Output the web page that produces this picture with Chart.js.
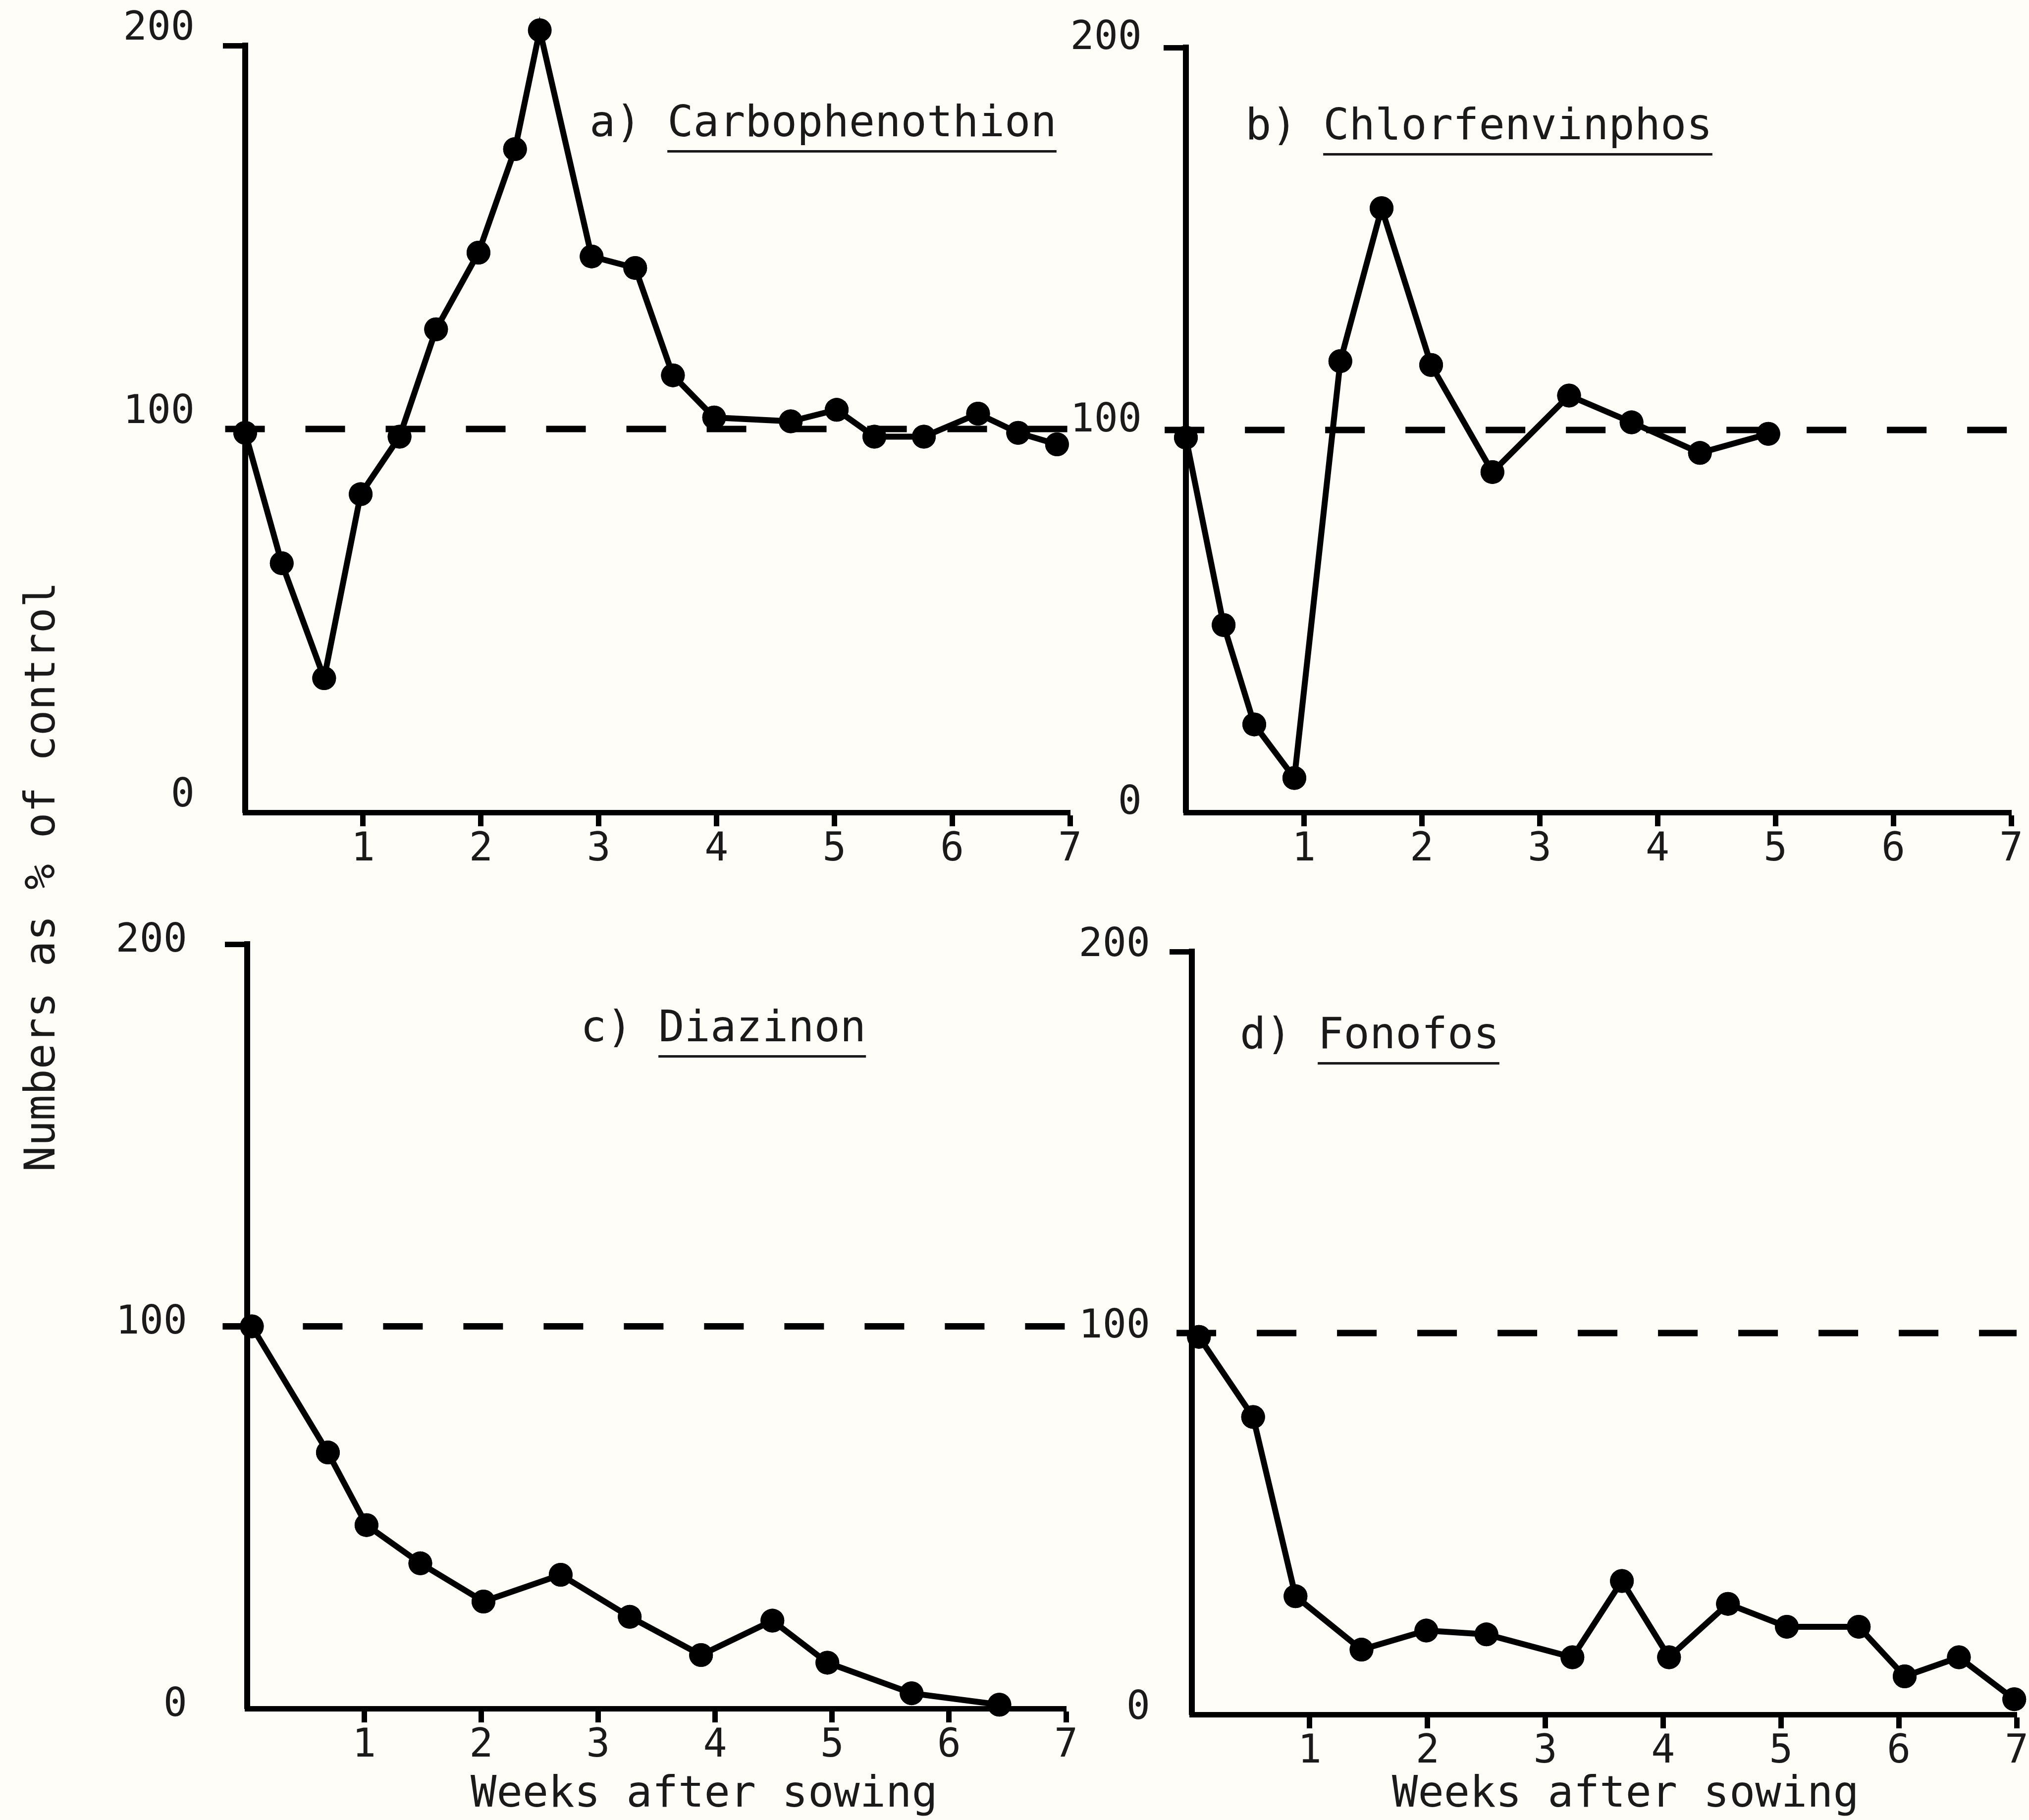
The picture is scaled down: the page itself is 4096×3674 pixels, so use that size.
<!DOCTYPE html>
<html lang="en">
<head>
<meta charset="UTF-8">
<title>Numbers as % of control</title>
<script src="https://cdn.jsdelivr.net/npm/chart.js"></script>
<style>
    body {
        margin: 0;
        width: 4096px;
        height: 3674px;
        overflow: hidden;
        position: relative;
        background: #fffdf7;
        font-family: "DejaVu Sans Mono", monospace;
        color: #1a1a1a;
    }
    canvas { position: absolute; }
    .label {
        position: absolute;
        font-size: 87px;
        line-height: 1;
        white-space: pre;
    }
    .label span {
        text-decoration: underline;
        text-decoration-thickness: 5px;
        text-underline-offset: 28px;
    }
    .xtitle {
        position: absolute;
        font-size: 87px;
        line-height: 1;
        white-space: pre;
    }
    #ytitle {
        position: absolute;
        left: 80px;
        top: 1770px;
        font-size: 86px;
        line-height: 1;
        white-space: pre;
        transform: translate(-50%, -50%) rotate(-90deg);
    }
</style>
</head>
<body>
    <canvas id="chartA"></canvas>
    <canvas id="chartB"></canvas>
    <canvas id="chartC"></canvas>
    <canvas id="chartD"></canvas>

    <div class="label" style="left:1190px; top:202px">a) <span>Carbophenothion</span></div>
    <div class="label" style="left:2514px; top:208px">b) <span>Chlorfenvinphos</span></div>
    <div class="label" style="left:1172px; top:2029px">c) <span>Diazinon</span></div>
    <div class="label" style="left:2503px; top:2043px">d) <span>Fonofos</span></div>

    <div class="xtitle" style="left:950px; top:3574px">Weeks after sowing</div>
    <div class="xtitle" style="left:2810px; top:3574px">Weeks after sowing</div>
    <div id="ytitle">Numbers as % of control</div>

<script>
// axis ticks
const weekTicks = [1, 2, 3, 4, 5, 6, 7];
const pctTicks = [0, 100, 200];
const controlLevel = 100;

// a) Carbophenothion
const carboWeeks = [0, 0.31, 0.67, 0.98, 1.31, 1.62, 1.98, 2.29, 2.50, 2.94, 3.31, 3.63, 3.98, 4.63, 5.02, 5.34, 5.76, 6.22, 6.56, 6.89];
const carboPct   = [99, 65, 35, 83, 98, 126, 146, 173, 204, 145, 142, 114, 103, 102, 105, 98, 98, 104, 99, 96];

// b) Chlorfenvinphos
const chlorWeeks = [0, 0.32, 0.58, 0.92, 1.31, 1.66, 2.08, 2.60, 3.25, 3.78, 4.36, 4.94];
const chlorPct   = [98, 49, 23, 9, 118, 158, 117, 89, 109, 102, 94, 99];

// c) Diazinon
const diazWeeks = [0.04, 0.69, 1.02, 1.48, 2.02, 2.68, 3.27, 3.88, 4.49, 4.96, 5.68, 6.43];
const diazPct   = [100, 67, 48, 38, 28, 35, 24, 14, 23, 12, 4, 1];

// d) Fonofos
const fonoWeeks = [0.06, 0.52, 0.88, 1.44, 1.99, 2.50, 3.23, 3.65, 4.05, 4.55, 5.05, 5.66, 6.05, 6.51, 6.98];
const fonoPct   = [99, 78, 31, 17, 22, 21, 15, 35, 15, 29, 23, 23, 10, 15, 4];

// how far the dashed control line runs (weeks)
const controlSpanA = [-0.17, 7];
const controlSpanB = [-0.18, 7];
const controlSpanC = [-0.21, 7.08];
const controlSpanD = [-0.13, 7];

const FONT = '"DejaVu Sans Mono", monospace';
// big top padding so the y labels never push the chart area down
const YW = 300, XH = 200, PAD_T = 200, PAD_R = 25;

// points above 200 (the peak in a) are skipped by Chart.js, draw them anyway
const allPoints = {
    id: 'allPoints',
    afterDatasetsDraw(chart) {
        const wide = { left: -1e4, top: -1e4, right: 1e4, bottom: 1e4 };
        chart.getDatasetMeta(0).data.forEach(p => p.draw(chart.ctx, wide));
    }
};

function makePanel(id, area, weeks, pct, span, yLab) {
    const cv = document.getElementById(id);
    const w = area.right - area.left + YW + PAD_R;
    const h = area.bottom - area.top + PAD_T + XH;
    cv.width = w;
    cv.height = h;
    cv.style.left = (area.left - YW) + 'px';
    cv.style.top = (area.top - PAD_T) + 'px';

    return new Chart(cv, {
        type: 'line',
        data: {
            datasets: [
                {
                    data: weeks.map((wk, i) => ({ x: wk, y: pct[i] })),
                    borderColor: '#000',
                    backgroundColor: '#000',
                    borderWidth: 12,
                    pointRadius: 24,
                    pointBackgroundColor: '#000',
                    pointBorderWidth: 0,
                    tension: 0,
                    clip: false
                },
                {
                    data: [{ x: span[0], y: controlLevel }, { x: span[1], y: controlLevel }],
                    borderColor: '#000',
                    borderWidth: 13,
                    borderDash: [80, 82],
                    pointRadius: 0,
                    clip: false
                }
            ]
        },
        options: {
            responsive: false,
            animation: false,
            devicePixelRatio: 1,
            layout: { padding: { top: PAD_T, right: PAD_R, left: 0, bottom: 0 } },
            plugins: { legend: { display: false }, tooltip: { enabled: false } },
            scales: {
                x: {
                    type: 'linear',
                    min: 0,
                    max: 7,
                    afterFit: s => { s.height = XH; },
                    afterBuildTicks: s => { s.ticks = weekTicks.map(v => ({ value: v })); },
                    border: { display: true, color: '#000', width: 11 },
                    grid: { drawOnChartArea: false, tickLength: 28, tickWidth: 11, tickColor: '#000' },
                    ticks: { color: '#1a1a1a', font: { family: FONT, size: 80 }, padding: 0, maxRotation: 0, autoSkip: false }
                },
                y: {
                    min: 0,
                    max: 200,
                    afterFit: s => { s.width = YW; },
                    afterBuildTicks: s => { s.ticks = pctTicks.map(v => ({ value: v })); },
                    border: { display: true, color: '#000', width: 12 },
                    grid: {
                        drawOnChartArea: false,
                        tickLength: 45,
                        tickWidth: 11,
                        tickColor: c => (c.tick && c.tick.value === 200) ? '#000' : 'rgba(0,0,0,0)'
                    },
                    ticks: { color: '#1a1a1a', font: { family: FONT, size: 80 }, padding: yLab.pad, labelOffset: yLab.off, autoSkip: false }
                }
            }
        },
        plugins: [allPoints]
    });
}

makePanel('chartA', { left: 495, right: 2160, top: 92, bottom: 1640 }, carboWeeks, carboPct, controlSpanA, { pad: 57, off: -33 });
makePanel('chartB', { left: 2394, right: 4060, top: 96, bottom: 1640 }, chlorWeeks, chlorPct, controlSpanB, { pad: 44, off: -18 });
makePanel('chartC', { left: 499, right: 2152, top: 1906, bottom: 3449 }, diazWeeks, diazPct, controlSpanC, { pad: 76, off: -6 });
makePanel('chartD', { left: 2406, right: 4071, top: 1921, bottom: 3461 }, fonoWeeks, fonoPct, controlSpanD, { pad: 39, off: -12 });
</script>
</body>
</html>
